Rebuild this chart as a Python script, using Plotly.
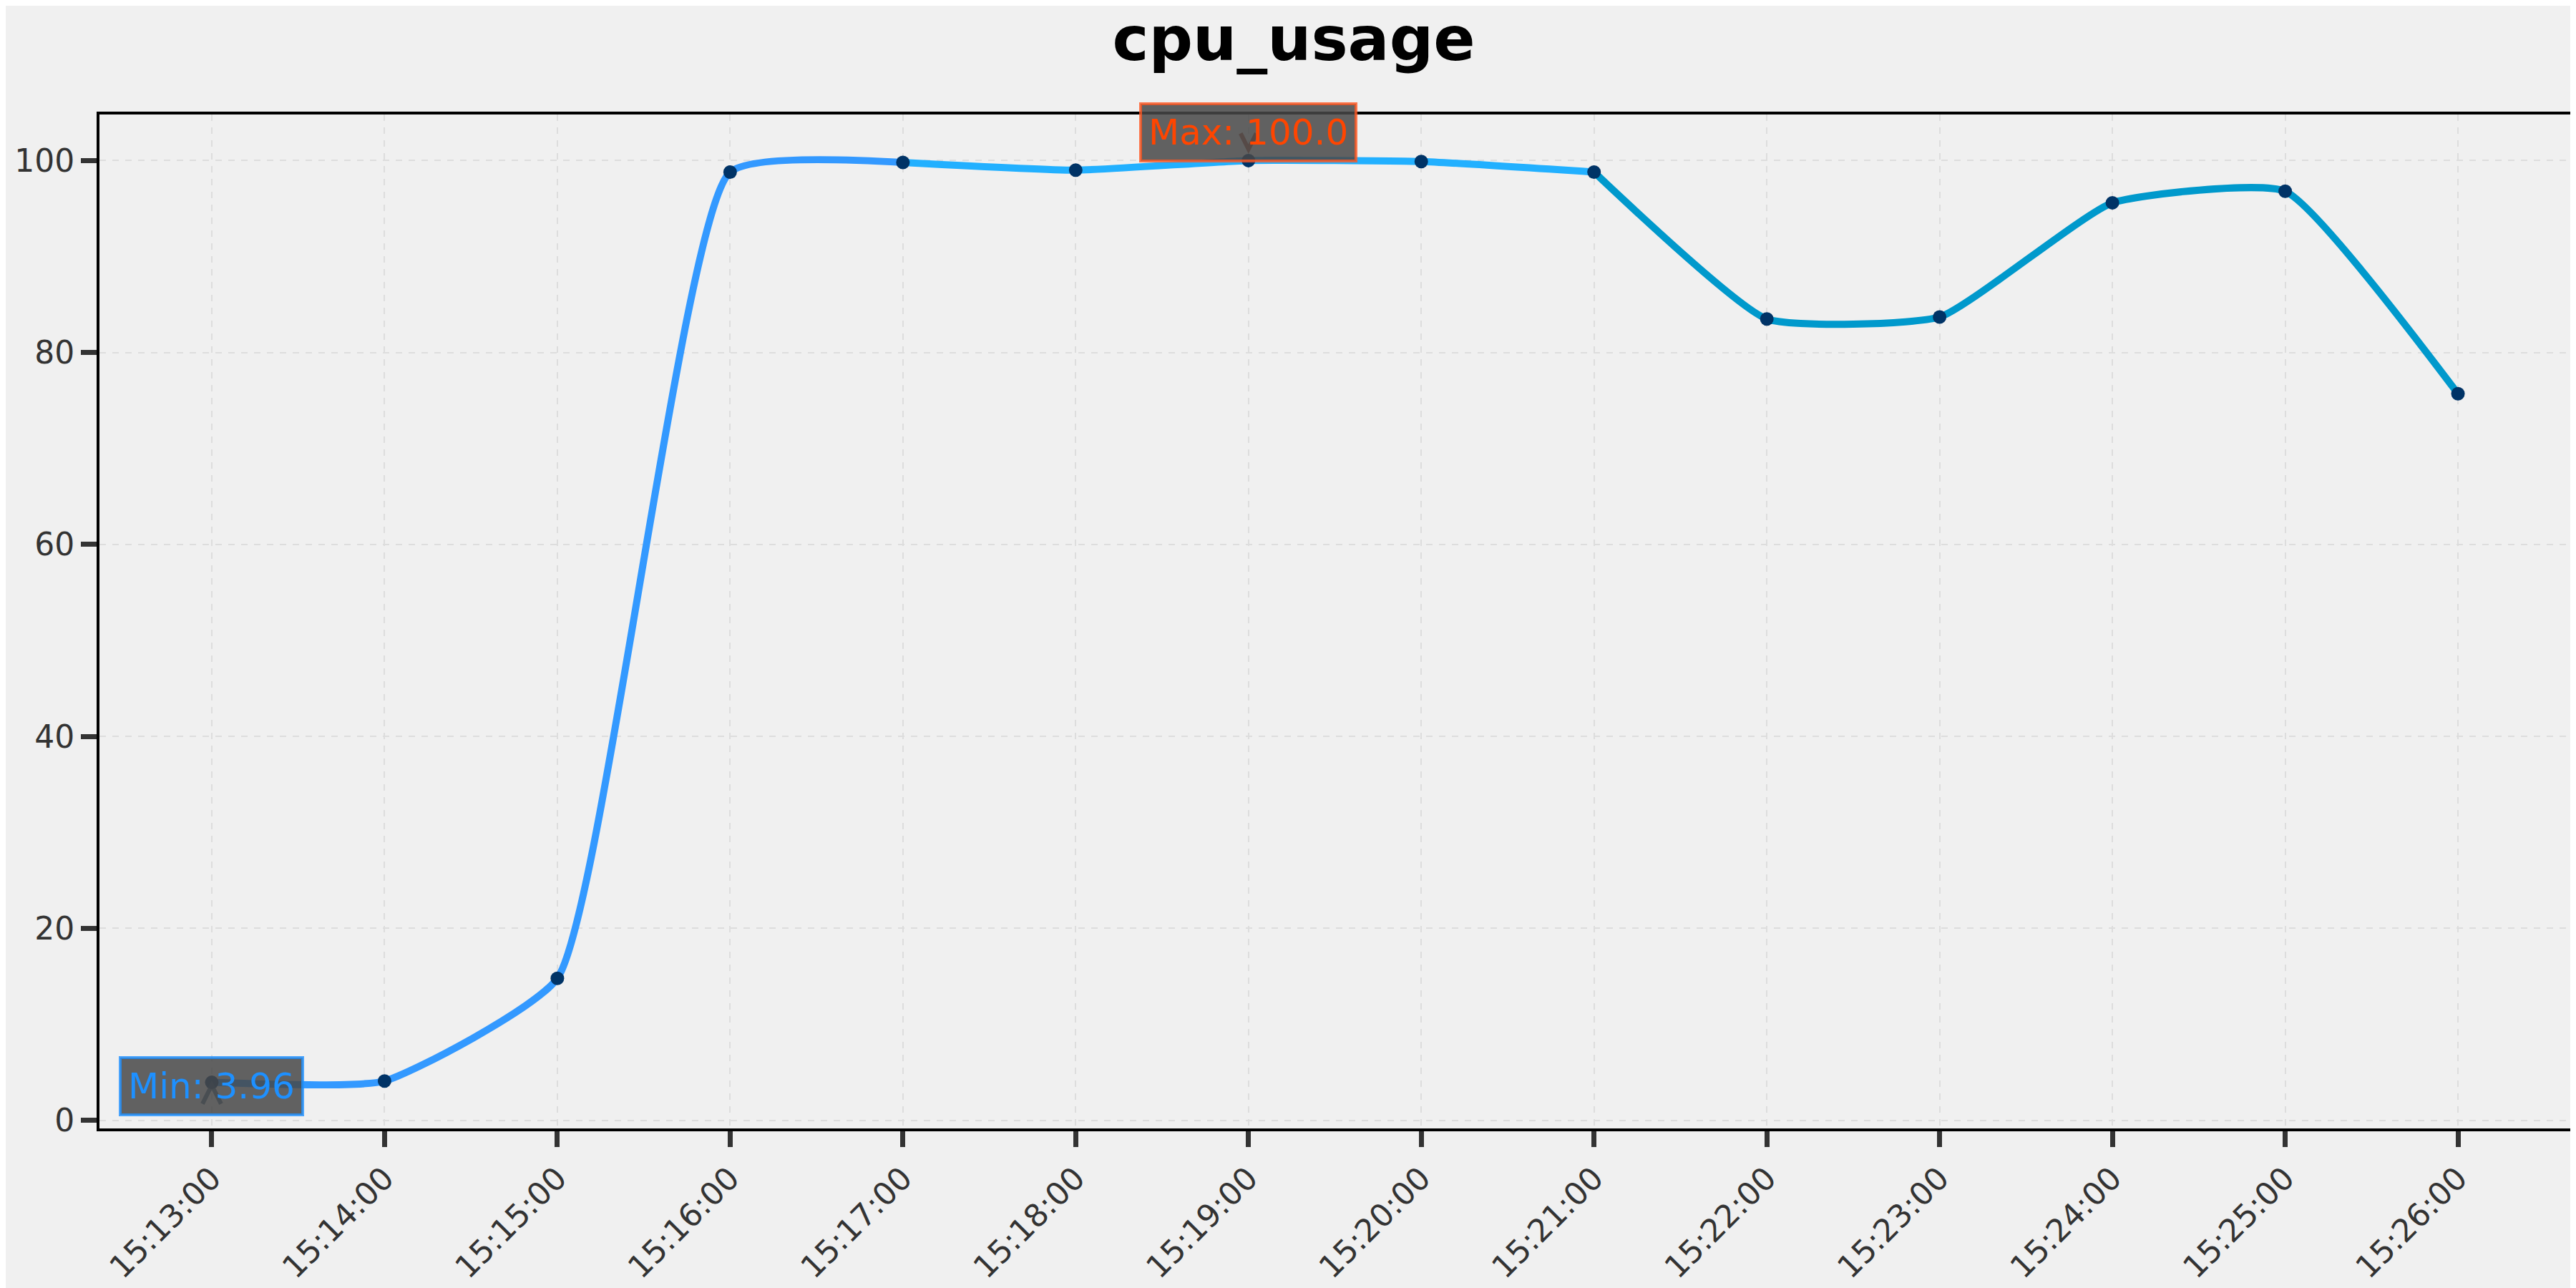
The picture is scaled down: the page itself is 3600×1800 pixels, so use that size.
import plotly.graph_objects as go

# ------------ data ------------
times = ["15:13:00", "15:14:00", "15:15:00", "15:16:00", "15:17:00", "15:18:00", "15:19:00",
         "15:20:00", "15:21:00", "15:22:00", "15:23:00", "15:24:00", "15:25:00", "15:26:00"]
cpu_usage = [3.96, 4.1, 14.8, 98.8, 99.8, 99.0, 100.0, 99.9, 98.8, 83.5, 83.7, 95.6, 96.8, 75.7]

day = "2024-01-01 "
x = [day + t for t in times]

# colour bands along the curve (left -> right)
band_colors = ["#3399ff", "#22b0ff", "#0099cc"]
band_ranges = [(0, 5), (4, 9), (8, 14)]

i_max = cpu_usage.index(max(cpu_usage))
i_min = cpu_usage.index(min(cpu_usage))

fig = go.Figure()

for col, (a, b) in zip(band_colors, band_ranges):
    fig.add_trace(go.Scatter(
        x=x[a:b], y=cpu_usage[a:b], mode="lines",
        line=dict(color=col, width=10, shape="spline", smoothing=0.45),
        showlegend=False, hoverinfo="skip"))

fig.add_trace(go.Scatter(
    x=x, y=cpu_usage, mode="markers",
    marker=dict(color="#003366", size=19, line=dict(width=0)),
    showlegend=False))

# ------------ annotations ------------
font_ann = dict(family="DejaVu Sans", size=50)
fig.add_annotation(x=x[i_max], y=cpu_usage[i_max], xref="x", yref="y",
                   text=f"Max: {cpu_usage[i_max]:.1f}", showarrow=False, yshift=39,
                   font=dict(font_ann, color="#ff4500"),
                   bgcolor="rgba(72,72,72,0.85)", bordercolor="rgba(255,87,34,0.8)",
                   borderwidth=4, borderpad=9)
fig.add_annotation(x=x[i_min], y=cpu_usage[i_min], xref="x", yref="y",
                   text=f"Min: {cpu_usage[i_min]:.2f}", showarrow=False, yshift=-5,
                   font=dict(font_ann, color="#1e90ff"),
                   bgcolor="rgba(72,72,72,0.85)", bordercolor="rgba(30,144,255,0.8)",
                   borderwidth=4, borderpad=9)

# small chevron arrows
fig.add_shape(type="path", xref="x", yref="y", xsizemode="pixel", ysizemode="pixel",
              xanchor=x[i_max], yanchor=cpu_usage[i_max],
              path="M -11,38 L 0,16 L 11,38", line=dict(color="rgba(140,40,10,0.75)", width=6))
fig.add_shape(type="path", xref="x", yref="y", xsizemode="pixel", ysizemode="pixel",
              xanchor=x[i_min], yanchor=cpu_usage[i_min],
              path="M -13,-30 L 0,-4 L 13,-30", line=dict(color="rgba(30,70,110,0.75)", width=6))

# ------------ layout ------------
tick_font = dict(family="DejaVu Sans", size=44, color="#333333")
fig.update_layout(
    width=3600, height=1800,
    paper_bgcolor="#f0f0f0", plot_bgcolor="#f0f0f0",
    margin=dict(l=124, r=14, t=152, b=207),
    title=dict(text="<b>cpu_usage</b>", x=0.5, xanchor="center", y=1 - 46 / 1800, yanchor="middle",
               yref="container", font=dict(family="DejaVu Sans", size=86, color="black")),
    showlegend=False,
)
fig.update_xaxes(
    type="date", range=[day + "15:12:21", day + "15:26:39"],
    tickvals=x, ticktext=times, tickangle=-45, tickfont=tick_font,
    ticks="outside", ticklen=22, tickwidth=7, tickcolor="#333333",
    showgrid=True, gridcolor="#dddddd", gridwidth=2, griddash="dash",
    showline=True, linecolor="black", linewidth=4, mirror=True, zeroline=False,
)
fig.update_yaxes(
    range=[-0.84, 104.8], tickvals=[0, 20, 40, 60, 80, 100], tickfont=tick_font,
    ticks="outside", ticklen=22, tickwidth=7, tickcolor="#333333",
    showgrid=True, gridcolor="#dddddd", gridwidth=2, griddash="dash",
    showline=True, linecolor="black", linewidth=4, mirror=True, zeroline=False,
)

fig.write_html("out.html")
